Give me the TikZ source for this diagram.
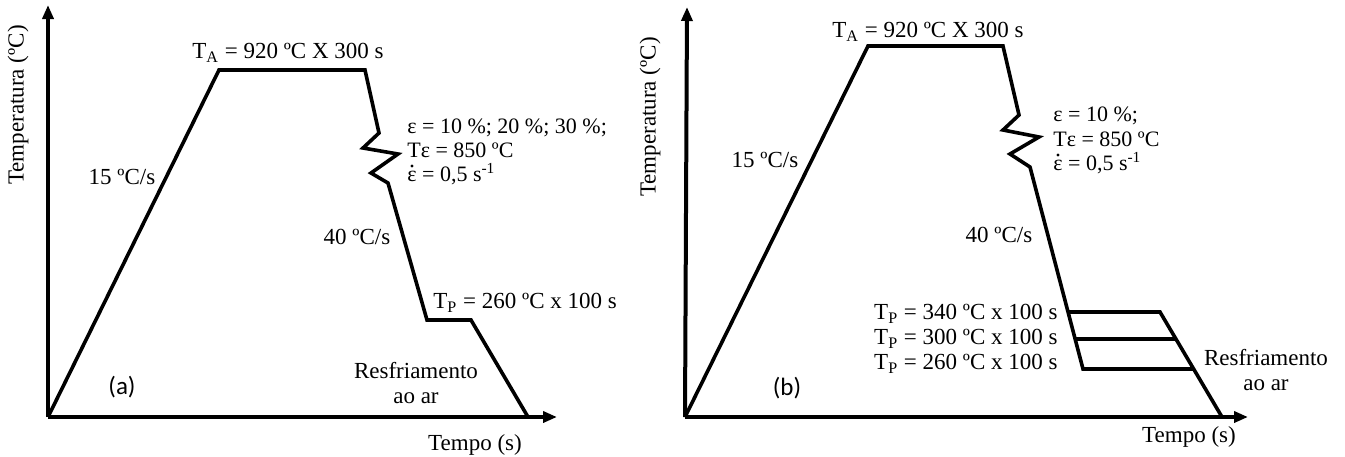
\documentclass[tikz,border=0pt]{standalone}
\usepackage{fontspec}
\setmainfont{Liberation Serif}
\newfontfamily\labelfont{Carlito}
\usetikzlibrary{positioning,calc,arrows.meta}

\tikzset{
	axis/.style={line width=2pt, -{Triangle[length=7pt,width=5.5pt]}},
	curve/.style={line width=1.8pt, line join=miter},
	txt/.style={font=\fontsize{11.5}{12}\selectfont, inner sep=0pt},
	small/.style={font=\fontsize{11}{11}\selectfont, inner sep=0pt, anchor=base west},
	tag/.style={font=\labelfont\fontsize{12.5}{14}\selectfont, inner sep=0pt},
	dotacc/.style={fill=black},
}

\begin{document}
\begin{tikzpicture}
		[x=0.5pt, y=-0.5pt]
		\useasboundingbox (0,0) rectangle (1345,456);

		% (a)
		\coordinate (a0) at (48,417);
		\coordinate (ya) at (48,5);
		\coordinate (xa) at (557,417);
		\coordinate (a1) at (219,70);
		\coordinate (a2) at (365,70);
		\coordinate (a3) at (379,133);
		\coordinate (a4) at (363,148);
		\coordinate (a5) at (398,154);
		\coordinate (a6) at (371,173);
		\coordinate (a7) at (388,183);
		\coordinate (a8) at (427,320);
		\coordinate (a9) at (471,320);
		\coordinate (a10) at (528,417);
		\draw[axis] (a0) -- (ya);
		\draw[axis] (a0) -- (xa);
		\draw[curve] (a0) -- (a1) -- (a2) -- (a3) -- (a4) -- (a5) -- (a6) -- (a7) -- (a8) -- (a9) -- (a10);

		\node[txt] (TAa) at (288,53) {T\textsubscript{A} = 920 ºC X 300 s};
		\node[txt] (Ra) at (122,177) {15 ºC/s};
		\node[txt] (Ca) at (357,237) {40 ºC/s};
		\node[small] (Ea1) at (407,133) {ε = 10 \%; 20 \%; 30 \%;};
		\node[small] (Ea2) at (407,157) {Tε = 850 ºC};
		\node[small] (Ea3) at (407,181) {ε = 0,5 s\textsuperscript{-1}};
		\fill[dotacc] ($(Ea3.base west)+(5,-15)$) circle (0.8pt);
		\node[txt, anchor=west] (TPa) at (433,303) {T\textsubscript{P} = 260 ºC x 100 s};
		\node[txt, align=center, font=\fontsize{11.5}{12.5}\selectfont] (Aa) at (416,383) {Resfriamento\\ ao ar};
		\node[tag] (La) at (122,387) {(a)};
		\node[txt] (Xa) at (475,445) {Tempo (s)};
		\node[txt, rotate=90] (Ya) at (18,105) {Temperatura (ºC)};

		% (b)
		\coordinate (b0) at (685,417);
		\coordinate (yb) at (687,7);
		\coordinate (xb) at (1248,417);
		\coordinate (b1) at (868,46);
		\coordinate (b2) at (1003,46);
		\coordinate (b3) at (1019,115);
		\coordinate (b4) at (1003,130);
		\coordinate (b5) at (1039,137);
		\coordinate (b6) at (1010,154);
		\coordinate (b7) at (1030,167);
		\coordinate (b8) at (1068,312);
		\coordinate (b9) at (1075,339);
		\coordinate (b10) at (1083,369);
		\coordinate (c1) at (1160,312);
		\coordinate (c2) at (1176,339);
		\coordinate (c3) at (1193,369);
		\coordinate (c4) at (1222,417);
		\draw[axis] (b0) -- (yb);
		\draw[axis] (b0) -- (xb);
		\draw[curve] (b0) -- (b1) -- (b2) -- (b3) -- (b4) -- (b5) -- (b6) -- (b7) -- (b10) -- (c3);
		\draw[curve] (b8) -- (c1) -- (c4);
		\draw[curve] (b9) -- (c2);

		\node[txt] (TAb) at (928,32) {T\textsubscript{A} = 920 ºC X 300 s};
		\node[txt] (Rb) at (765,160) {15 ºC/s};
		\node[txt] (Cb) at (999,235) {40 ºC/s};
		\node[small] (Eb1) at (1053,121) {ε = 10 \%;};
		\node[small] (Eb2) at (1053,146) {Tε = 850 ºC};
		\node[small] (Eb3) at (1053,170) {ε = 0,5 s\textsuperscript{-1}};
		\fill[dotacc] ($(Eb3.base west)+(5,-15)$) circle (0.8pt);
		\node[txt, anchor=east] (TP1) at (1058,314) {T\textsubscript{P} = 340 ºC x 100 s};
		\node[txt, anchor=east] (TP2) at (1058,339) {T\textsubscript{P} = 300 ºC x 100 s};
		\node[txt, anchor=east] (TP3) at (1058,364) {T\textsubscript{P} = 260 ºC x 100 s};
		\node[txt, align=center, font=\fontsize{11.5}{12.5}\selectfont] (Ab) at (1266,370) {Resfriamento\\ ao ar};
		\node[tag] (Lb) at (787,388) {(b)};
		\node[txt] (Xb) at (1189,437) {Tempo (s)};
		\node[txt, rotate=90] (Yb) at (650,117) {Temperatura (ºC)};
	\end{tikzpicture}
\end{document}
